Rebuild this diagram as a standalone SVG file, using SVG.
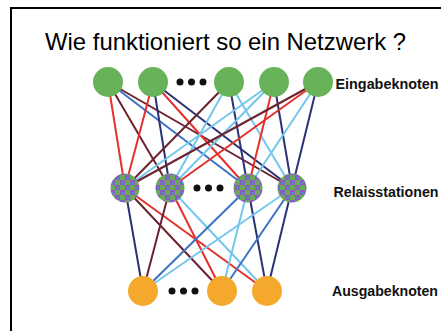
<svg xmlns="http://www.w3.org/2000/svg" width="441" height="331" viewBox="0 0 441 331">
<defs>
<pattern id="chk" width="10" height="10" patternUnits="userSpaceOnUse">
<rect width="10" height="10" fill="#6aa85a"/>
<rect width="5" height="5" fill="#8b5cc4"/>
<rect x="5" y="5" width="5" height="5" fill="#8b5cc4"/>
<rect x="2" y="2" width="2" height="2" fill="#4f8fc0"/>
<rect x="7" y="7" width="2" height="2" fill="#4f8fc0"/>
</pattern>
<style>
.t{font-family:"Liberation Sans",Arial,sans-serif;fill:#000}
.lb{font-family:"Liberation Sans",Arial,sans-serif;font-weight:bold;font-size:14px;fill:#111}
.in{fill:#68b35a}
.rl{fill:url(#chk)}
.out{fill:#f5a92c}
.dot{fill:#111}
line{stroke-width:2;stroke-linecap:round}
.r{stroke:#e4312c}
.m{stroke:#6d2230}
.n{stroke:#2b3175}
.b{stroke:#3b72c4}
.c{stroke:#74c7ec}
</style>
</defs>
<rect width="441" height="331" fill="#fff"/>
<path d="M11,331 V8 H441" fill="none" stroke="#000" stroke-width="2"/>
<text class="t" x="45" y="50" font-size="24" textLength="361" lengthAdjust="spacingAndGlyphs">Wie funktioniert so ein Netzwerk ?</text>
<g id="connectors">
<line class="r" x1="108" y1="82" x2="125" y2="188"/>
<line class="m" x1="108" y1="82" x2="170" y2="188"/>
<line class="b" x1="108" y1="82" x2="248" y2="188"/>
<line class="m" x1="108" y1="82" x2="292" y2="188"/>
<line class="r" x1="153" y1="82" x2="125" y2="188"/>
<line class="n" x1="153" y1="82" x2="170" y2="188"/>
<line class="r" x1="153" y1="82" x2="248" y2="188"/>
<line class="n" x1="153" y1="82" x2="292" y2="188"/>
<line class="m" x1="229" y1="82" x2="125" y2="188"/>
<line class="c" x1="229" y1="82" x2="170" y2="188"/>
<line class="n" x1="229" y1="82" x2="248" y2="188"/>
<line class="c" x1="229" y1="82" x2="292" y2="188"/>
<line class="c" x1="274" y1="82" x2="125" y2="188"/>
<line class="c" x1="274" y1="82" x2="170" y2="188"/>
<line class="r" x1="274" y1="82" x2="248" y2="188"/>
<line class="n" x1="274" y1="82" x2="292" y2="188"/>
<line class="m" x1="318" y1="82" x2="125" y2="188"/>
<line class="r" x1="318" y1="82" x2="170" y2="188"/>
<line class="c" x1="318" y1="82" x2="248" y2="188"/>
<line class="n" x1="318" y1="82" x2="292" y2="188"/>
<line class="n" x1="125" y1="188" x2="143" y2="291"/>
<line class="m" x1="125" y1="188" x2="222" y2="291"/>
<line class="r" x1="125" y1="188" x2="267" y2="291"/>
<line class="m" x1="170" y1="188" x2="143" y2="291"/>
<line class="r" x1="170" y1="188" x2="222" y2="291"/>
<line class="c" x1="170" y1="188" x2="267" y2="291"/>
<line class="b" x1="248" y1="188" x2="143" y2="291"/>
<line class="c" x1="248" y1="188" x2="222" y2="291"/>
<line class="n" x1="248" y1="188" x2="267" y2="291"/>
<line class="c" x1="292" y1="188" x2="143" y2="291"/>
<line class="b" x1="292" y1="188" x2="222" y2="291"/>
<line class="n" x1="292" y1="188" x2="267" y2="291"/>
</g>
<g id="input-nodes">
<circle id="i1" class="in" cx="108" cy="82" r="15"/>
<circle id="i2" class="in" cx="153" cy="82" r="15"/>
<circle id="i3" class="in" cx="229" cy="82" r="15"/>
<circle id="i4" class="in" cx="274" cy="82" r="15"/>
<circle id="i5" class="in" cx="318" cy="82" r="15"/>
<circle class="dot" cx="180" cy="82" r="3.5"/>
<circle class="dot" cx="191.5" cy="82" r="3.5"/>
<circle class="dot" cx="203" cy="82" r="3.5"/>
<text class="lb" x="335.5" y="88.5" textLength="103" lengthAdjust="spacingAndGlyphs">Eingabeknoten</text>
</g>
<g id="relay-nodes">
<circle id="r1" class="rl" cx="125" cy="188" r="14.5"/>
<circle id="r2" class="rl" cx="170" cy="188" r="14.5"/>
<circle id="r3" class="rl" cx="248" cy="188" r="14.5"/>
<circle id="r4" class="rl" cx="292" cy="188" r="14.5"/>
<circle class="dot" cx="197" cy="188" r="3.5"/>
<circle class="dot" cx="208.5" cy="188" r="3.5"/>
<circle class="dot" cx="220" cy="188" r="3.5"/>
<text class="lb" x="333.5" y="196.5" textLength="105" lengthAdjust="spacingAndGlyphs">Relaisstationen</text>
</g>
<g id="output-nodes">
<circle id="o1" class="out" cx="143" cy="291" r="15"/>
<circle id="o2" class="out" cx="222" cy="291" r="15"/>
<circle id="o3" class="out" cx="267" cy="291" r="15"/>
<circle class="dot" cx="172" cy="291" r="3.5"/>
<circle class="dot" cx="183.5" cy="291" r="3.5"/>
<circle class="dot" cx="195" cy="291" r="3.5"/>
<text class="lb" x="332" y="295.5" textLength="106" lengthAdjust="spacingAndGlyphs">Ausgabeknoten</text>
</g>
</svg>
